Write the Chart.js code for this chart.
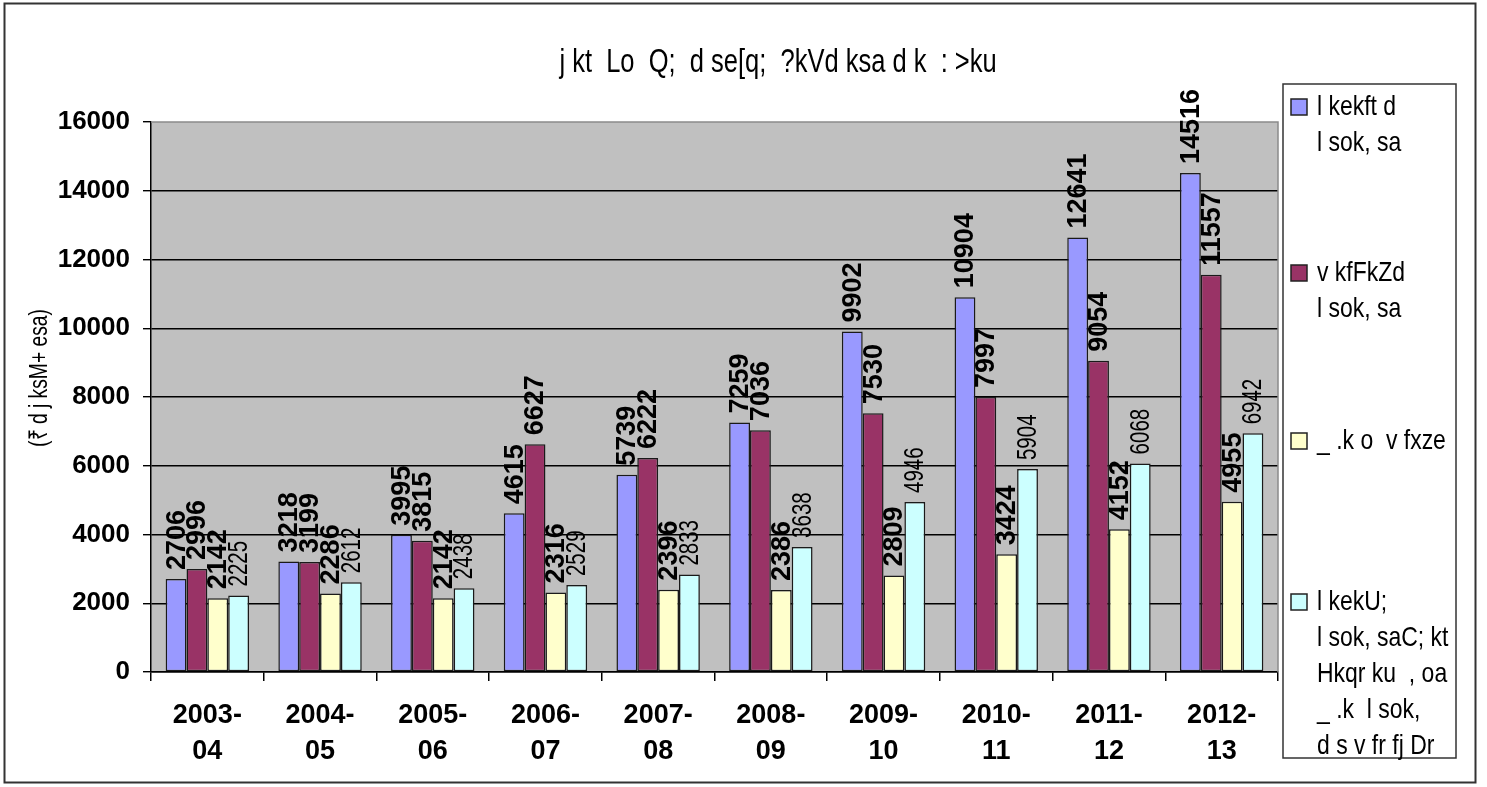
<!DOCTYPE html>
<html>
<head>
<meta charset="utf-8">
<script src="https://cdn.jsdelivr.net/npm/chart.js@4/dist/chart.umd.min.js"></script>
<style>
  html, body { margin: 0; padding: 0; background: #ffffff; }
  #wrap { position: relative; width: 1487px; height: 787px; }
  canvas { display: block; }
</style>
</head>
<body>
<div id="wrap"><canvas id="c" width="1487" height="787"></canvas></div>
<script>
// Financial years
const years = ["2003-04", "2004-05", "2005-06", "2006-07", "2007-08",
               "2008-09", "2009-10", "2010-11", "2011-12", "2012-13"];

// Expenditure by component (₹ crore)
const socialServices   = [2706, 3218, 3995, 4615, 5739, 7259, 9902, 10904, 12641, 14516];
const economicServices = [2996, 3199, 3815, 6627, 6222, 7036, 7530, 7997, 9054, 11557];
const loansAdvances    = [2142, 2286, 2142, 2316, 2396, 2386, 2809, 3424, 4152, 4955];
const generalServices  = [2225, 2612, 2438, 2529, 2833, 3638, 4946, 5904, 6068, 6942];

// Y axis ticks
const yTicks = [0, 2000, 4000, 6000, 8000, 10000, 12000, 14000, 16000];

// Texts (Kruti Dev encoded Hindi)
const chartTitle = "j kt  Lo  Q;  d se[q;  ?kVd ksa d k  : >ku";
const yAxisTitle = "(₹ d j ksM+ esa)";
const legendLines = [
  ["l kekft d", "l sok, sa"],
  ["v kfFkZd", "l sok, sa"],
  ["_ .k o  v fxze"],
  ["l kekU;", "l sok, saC; kt", "Hkqr ku  , oa", "_ .k  l sok,", "d s v fr fj Dr"]
];

const SANS = '"Liberation Sans", Arial, sans-serif';

// Condensed text: draw with a horizontal squeeze along the text direction
function narrowText(ctx, text, x, y, sx) {
  ctx.save();
  ctx.translate(x, y);
  ctx.scale(sx, 1);
  ctx.fillText(text, 0, 0);
  ctx.restore();
}

// Gray plot background, frame, title and outer border
const framePlugin = {
  id: 'frame',
  beforeDraw(chart) {
    const { ctx, chartArea: a } = chart;
    ctx.save();
    ctx.fillStyle = '#ffffff';
    ctx.fillRect(0, 0, chart.width, chart.height);
    ctx.fillStyle = '#c0c0c0';
    ctx.fillRect(a.left, a.top, a.right - a.left, a.bottom - a.top);
    ctx.restore();
  },
  afterDatasetsDraw(chart) {
    const { ctx, chartArea: a } = chart;
    ctx.save();
    ctx.strokeStyle = '#8a8a8a';
    ctx.lineWidth = 1.5;
    ctx.beginPath();
    ctx.moveTo(a.left, a.top);
    ctx.lineTo(a.right, a.top);
    ctx.lineTo(a.right, a.bottom);
    ctx.stroke();
    ctx.restore();
  },
  afterDraw(chart) {
    const { ctx } = chart;
    ctx.save();
    // outer border
    ctx.strokeStyle = '#333';
    ctx.lineWidth = 2;
    ctx.strokeRect(4.5, 3.5, 1471, 779);
    // title
    ctx.fillStyle = '#000';
    ctx.font = '34px ' + SANS;
    ctx.textAlign = 'center';
    ctx.textBaseline = 'middle';
    narrowText(ctx, chartTitle, 778, 63, 0.75);
    // y axis title
    ctx.translate(40, 378);
    ctx.rotate(-Math.PI / 2);
    ctx.font = '26px ' + SANS;
    narrowText(ctx, yAxisTitle, 0, 0, 0.74);
    ctx.restore();
  }
};

// Rotated value labels above each bar
const valueLabels = {
  id: 'valueLabels',
  afterDatasetsDraw(chart) {
    const { ctx } = chart;
    chart.data.datasets.forEach((ds, i) => {
      const meta = chart.getDatasetMeta(i);
      ctx.save();
      ctx.fillStyle = '#000';
      ctx.font = i === 3 ? '27px ' + SANS : 'bold 27px ' + SANS;
      meta.data.forEach((bar, j) => {
        ctx.save();
        ctx.translate(bar.x, bar.y - 9);
        ctx.rotate(-Math.PI / 2);
        ctx.textAlign = 'left';
        ctx.textBaseline = 'middle';
        narrowText(ctx, String(ds.data[j]), 0, 1, i === 3 ? 0.76 : 1);
        ctx.restore();
      });
      ctx.restore();
    });
  }
};

// Boxed legend with multi-line entries
const boxLegend = {
  id: 'boxLegend',
  afterDraw(chart) {
    const { ctx } = chart;
    const box = { x: 1283, y: 84, w: 173, h: 674 };
    const firstLine = [107, 273, 441, 602];
    const lineH = 36;
    ctx.save();
    ctx.strokeStyle = '#333';
    ctx.lineWidth = 1.5;
    ctx.strokeRect(box.x, box.y, box.w, box.h);
    ctx.font = '28px ' + SANS;
    ctx.textAlign = 'left';
    ctx.textBaseline = 'middle';
    chart.data.datasets.forEach((ds, i) => {
      const y0 = firstLine[i];
      ctx.fillStyle = ds.backgroundColor;
      ctx.fillRect(1291, y0 - 8, 16, 16);
      ctx.strokeStyle = '#222';
      ctx.lineWidth = 1.5;
      ctx.strokeRect(1291, y0 - 8, 16, 16);
      ctx.fillStyle = '#000';
      legendLines[i].forEach((t, k) => narrowText(ctx, t, 1317, y0 + k * lineH, 0.82));
    });
    ctx.restore();
  }
};

const barStyle = { borderColor: '#1a1a1a', borderWidth: 1.5, borderSkipped: false };

new Chart(document.getElementById('c'), {
  type: 'bar',
  data: {
    labels: years.map(y => [y.slice(0, 5), y.slice(5)]),
    datasets: [
      { label: legendLines[0].join(' '), data: socialServices,   backgroundColor: '#9999ff', ...barStyle },
      { label: legendLines[1].join(' '), data: economicServices, backgroundColor: '#993366', ...barStyle },
      { label: legendLines[2].join(' '), data: loansAdvances,    backgroundColor: '#ffffcc', ...barStyle },
      { label: legendLines[3].join(' '), data: generalServices,  backgroundColor: '#ccffff', ...barStyle }
    ]
  },
  options: {
    responsive: false,
    animation: false,
    devicePixelRatio: 1,
    categoryPercentage: 0.74,
    barPercentage: 1.0,
    layout: { padding: { top: 122, left: 0, right: 209, bottom: 0 } },
    plugins: {
      legend: { display: false },
      title: { display: false },
      tooltip: { enabled: false }
    },
    scales: {
      x: {
        offset: true,
        grid: { drawOnChartArea: false, drawTicks: true, tickLength: 9, color: '#000', lineWidth: 1.5 },
        border: { display: true, color: '#000', width: 1.5 },
        ticks: {
          color: '#000',
          font: { family: SANS, size: 27, weight: 'bold', lineHeight: 1.35 },
          padding: 16,
          maxRotation: 0,
          autoSkip: false
        },
        afterFit(scale) { scale.height = 115; }
      },
      y: {
        min: 0,
        max: 16000,
        afterBuildTicks(scale) { scale.ticks = yTicks.map(v => ({ value: v })); },
        grid: {
          color: ctx => (ctx.index === yTicks.length - 1 ? 'rgba(0,0,0,0)' : '#000'),
          tickColor: '#000',
          lineWidth: 1.4,
          tickLength: 8,
          drawTicks: true
        },
        border: { display: true, color: '#000', width: 1.5 },
        ticks: {
          color: '#000',
          font: { family: SANS, size: 26, weight: 'bold' },
          padding: 13,
          callback: v => String(v)
        },
        afterFit(scale) { scale.width = 151; }
      }
    }
  },
  plugins: [framePlugin, valueLabels, boxLegend]
});
</script>
</body>
</html>
